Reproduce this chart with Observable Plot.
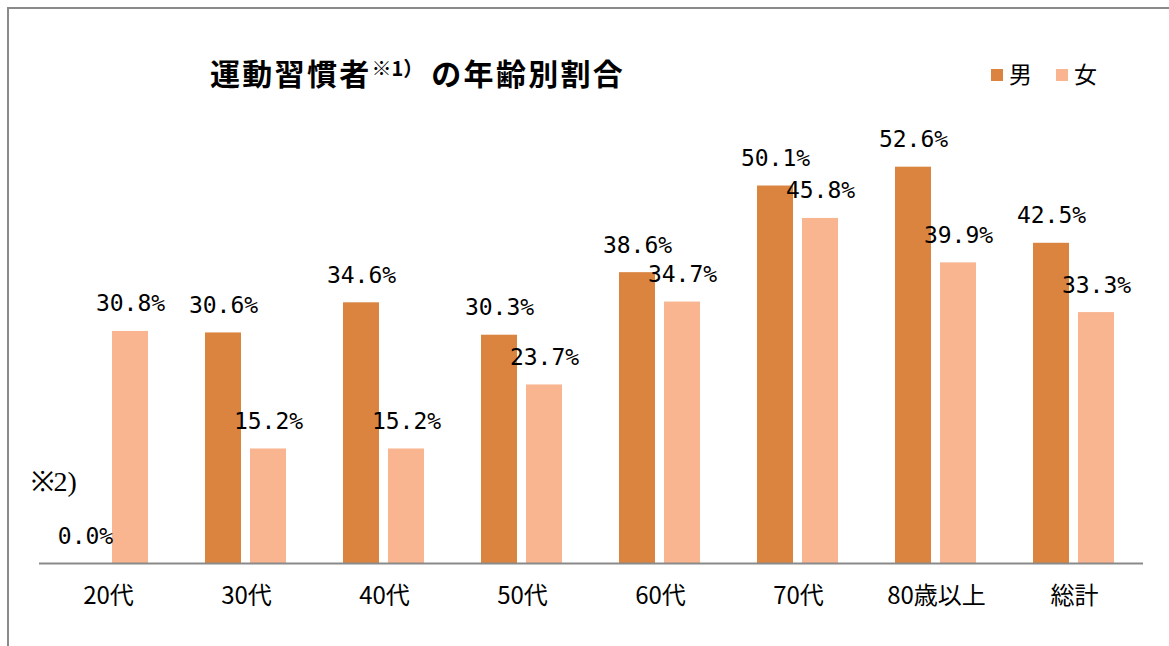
<!DOCTYPE html>
<html><head><meta charset="utf-8">
<script src="https://cdn.jsdelivr.net/npm/d3@7"></script>
<script src="https://cdn.jsdelivr.net/npm/@observablehq/plot@0.6"></script>
<style>
html,body{margin:0;padding:0;background:#fff;}
#wrap{position:relative;width:1169px;height:646px;overflow:hidden;font-family:"Noto Sans CJK JP",sans-serif;}
#frame{position:absolute;left:7px;top:7px;right:-10px;bottom:-10px;border-left:2px solid #8a8a8a;border-top:2px solid #8a8a8a;}
#title{position:absolute;left:210px;top:57px;font-size:30px;font-weight:bold;line-height:1;letter-spacing:2.3px;color:#000;white-space:nowrap;}
#title .sup{font-size:20px;position:relative;top:-9px;letter-spacing:0;margin-right:8px;}
.leg{position:absolute;top:62px;font-size:23px;line-height:1;color:#000;}
.sw{position:absolute;width:12px;height:12px;top:69px;}
#chart{position:absolute;left:0;top:110px;}
</style></head>
<body><div id="wrap">
<div id="frame"></div>
<div id="title">運動習慣者<span class="sup">※1）</span>の年齢別割合</div>
<div class="sw" style="left:991px;background:#da843f"></div><div class="leg" style="left:1009px">男</div>
<div class="sw" style="left:1056px;background:#f8b58f"></div><div class="leg" style="left:1074px">女</div>
<div id="chart"></div>
</div>
<script>
const groups = ["20代","30代","40代","50代","60代","70代","80歳以上","総計"];
const sexes = ["男","女"];
const maleValues = [0.0, 30.6, 34.6, 30.3, 38.6, 50.1, 52.6, 42.5];
const femaleValues = [30.8, 15.2, 15.2, 23.7, 34.7, 45.8, 39.9, 33.3];
const colors = ["#da843f", "#f8b58f"];
const note = ["※2)"];

const data = [];
groups.forEach((g, i) => {
  data.push({group: g, sex: "男", value: maleValues[i]});
  data.push({group: g, sex: "女", value: femaleValues[i]});
});
const bars = data.filter(d => d.value > 0);

const chart = Plot.plot({
  width: 1169, height: 536,
  marginLeft: 37, marginRight: 24, marginTop: 16, marginBottom: 83,
  style: {background: "transparent", overflow: "visible", color: "#000"},
  fx: {domain: groups, paddingInner: 0, paddingOuter: 0, label: null},
  x: {domain: sexes, paddingInner: 0.196, paddingOuter: 0.603, axis: null},
  y: {domain: [0, 58], axis: null},
  color: {domain: sexes, range: colors},
  marks: [
    Plot.barY(bars, {fx: "group", x: "sex", y: "value", fill: "sex"}),
    Plot.ruleY([0], {stroke: "#8a8a8a", strokeWidth: 2}),
    Plot.text(data, {fx: "group", x: "sex", y: "value", text: d => d.value.toFixed(1) + "%",
      lineAnchor: "bottom", dy: -20, fontSize: 23, fontFamily: "DejaVu Sans Mono", fill: "#000"}),
    Plot.text(note, {fx: () => "20代", frameAnchor: "bottom-left", textAnchor: "start",
      dx: -9, dy: -73, fontSize: 28, fontFamily: "Liberation Serif", fill: "#000"}),
    Plot.axisFx({anchor: "bottom", tickSize: 0, tickPadding: 23, fontSize: 24, label: null,
      fontFamily: "Noto Sans CJK JP"})
  ]
});
document.getElementById("chart").appendChild(chart);
</script>
</body></html>
